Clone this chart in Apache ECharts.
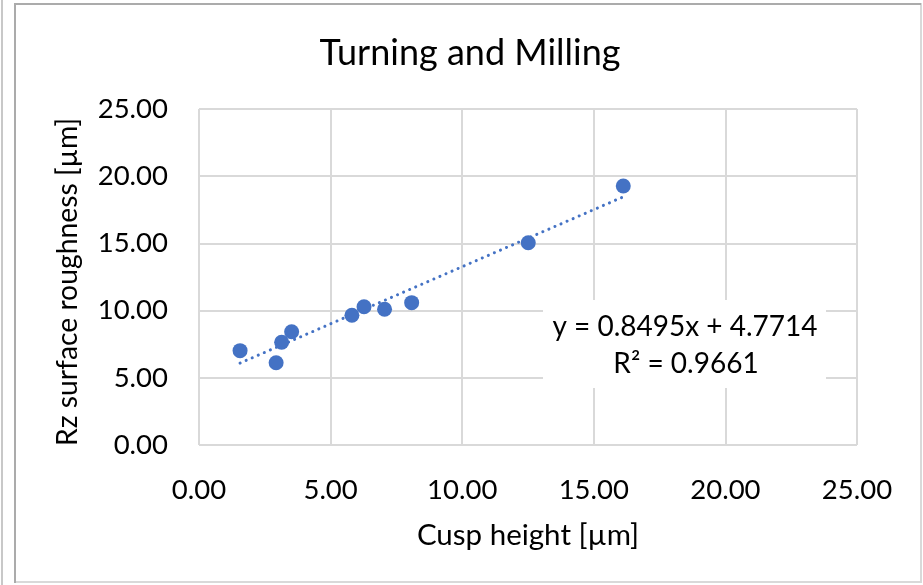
<!DOCTYPE html>
<html><head><meta charset="utf-8">
<script src="https://cdn.jsdelivr.net/npm/echarts@6/dist/echarts.min.js"></script>
<style>html,body{margin:0;padding:0;background:#fff}#c{width:923px;height:585px}</style>
</head><body><div id="c"></div>
<script>
const titleText = "Turning and Milling";
const xName = "Cusp height [µm]";
const yName = "Rz surface roughness [µm]";
const cuspHeight = [1.56, 2.93, 3.14, 3.52, 5.81, 6.27, 7.05, 8.08, 12.51, 16.12];
const rzRoughness = [7.02, 6.12, 7.64, 8.43, 9.65, 10.29, 10.10, 10.59, 15.05, 19.27];
const trendSlope = 0.8495;
const trendIntercept = 4.7714;
const trendR2 = 0.9661;
const trendX = [1.56, 16.12];
const axisTicks = [0, 5, 10, 15, 20, 25];

const FONT = 'Lato, "Noto Sans", sans-serif';
const chart = echarts.init(document.getElementById('c'));
const trendData = trendX.map(x => [x, trendSlope * x + trendIntercept]);
chart.setOption({
  backgroundColor: '#fff',
  animation: false,
  title: { text: titleText, left: 465, textAlign: 'center', top: 30,
    textStyle: { fontFamily: FONT, fontSize: 36, fontWeight: 'normal', color: '#000' } },
  grid: { left: 199, top: 109, width: 658, height: 336, containLabel: false },
  xAxis: {
    type: 'value', min: axisTicks[0], max: axisTicks[axisTicks.length-1], interval: 5,
    name: xName, nameLocation: 'middle', nameGap: 75,
    nameTextStyle: { fontFamily: FONT, fontSize: 29.5, color: '#000' },
    axisLine: { show: false }, axisTick: { show: false },
    axisLabel: { formatter: v => v.toFixed(2), fontFamily: FONT, fontSize: 27.5, color: '#000', margin: 31 },
    splitLine: { show: true, lineStyle: { color: '#d9d9d9', width: 2 } }
  },
  yAxis: {
    type: 'value', min: axisTicks[0], max: axisTicks[axisTicks.length-1], interval: 5,
    name: yName, nameLocation: 'middle', nameGap: 117, nameRotate: 90, nameMoveOverlap: false,
    nameTextStyle: { fontFamily: FONT, fontSize: 28.3, color: '#000', padding: [0, 10, 0, 0] },
    axisLine: { show: false }, axisTick: { show: false },
    axisLabel: { formatter: v => v.toFixed(2), fontFamily: FONT, fontSize: 27.5, color: '#000', margin: 31 },
    splitLine: { show: true, lineStyle: { color: '#d9d9d9', width: 2 } }
  },
  series: [
    { type: 'line', data: trendData, showSymbol: false, symbol: 'none', silent: true, z: 1,
      lineStyle: { color: '#4472C4', width: 3, type: [0.1, 6.5], cap: 'round' } },
    { type: 'scatter', data: cuspHeight.map((x, i) => [x, rzRoughness[i]]), symbolSize: 15, z: 3,
      itemStyle: { color: '#4472C4', opacity: 1 } }
  ],
  graphic: [
    { type: 'rect', shape: { x: 15, y: 4, width: 906, height: 578 }, z: -10,
      style: { fill: 'none', stroke: '#d9d9d9', lineWidth: 2 } },
    { type: 'polyline', shape: { points: [[15, 583], [15, 4], [921, 4]] }, z: -9,
      style: { fill: 'none', stroke: '#ababab', lineWidth: 2 } },
    { type: 'line', shape: { x1: 2, y1: 0, x2: 2, y2: 585 }, style: { stroke: '#c8c8c8', lineWidth: 2 } },
    { type: 'rect', shape: { x: 543, y: 300, width: 283, height: 88 }, z: 10,
      style: { fill: '#fff' } },
    { type: 'text', x: 685, y: 327, z: 11,
      style: { text: 'y = ' + trendSlope + 'x + ' + trendIntercept, fontFamily: FONT, fontSize: 28,
        fill: '#000', align: 'center', verticalAlign: 'middle' } },
    { type: 'text', x: 686, y: 364, z: 11,
      style: { text: 'R² = ' + trendR2, fontFamily: FONT, fontSize: 28,
        fill: '#000', align: 'center', verticalAlign: 'middle' } }
  ]
});
</script></body></html>
